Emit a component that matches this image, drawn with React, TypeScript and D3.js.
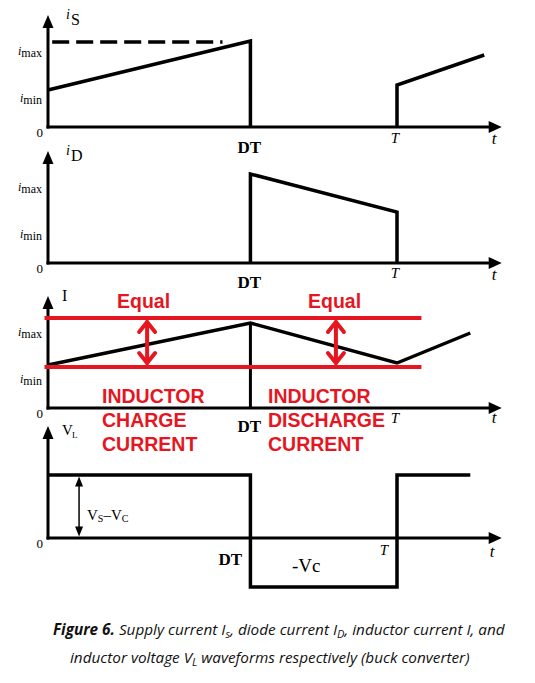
import React from "react";
import * as d3 from "d3";

// ---- data (time in units of the period T, levels in panel units) ----
const timeMarks = [
  { label: "DT", t: 0.58 },
  { label: "T", t: 1 },
];
const axisEndT = 1.3;
const axisTopV = 1.12;

const supplyCurrentOn: [number, number][] = [[0, 0.37], [0.58, 0.86], [0.58, 0]];
const supplyCurrentNext: [number, number][] = [[1, 0], [1, 0.42], [1.25, 0.72]];
const supplyPeakDashed: [number, number][] = [[0.012, 0.85], [0.5, 0.85]];

const diodeCurrent: [number, number][] = [[0.58, 0], [0.58, 0.89], [1, 0.51], [1, 0]];

const inductorCurrent: [number, number][] = [[0, 0.43], [0.58, 0.85], [1, 0.45], [1.21, 0.75]];
const inductorDTMarker: [number, number][] = [[0.58, 0.85], [0.58, 0]];
const rippleBandLevels = [0.9, 0.41];
const rippleBandSpan = [-0.01, 1.07];
const equalArrowTimes = [0.284, 0.825];
const equalLabels = ["Equal", "Equal"];
const chargeLabels = ["INDUCTOR", "CHARGE", "CURRENT"];
const dischargeLabels = ["INDUCTOR", "DISCHARGE", "CURRENT"];

const inductorVoltage: [number, number][] = [
  [0, 0.63], [0.58, 0.63], [0.58, -0.49], [1, -0.49], [1, 0.63], [1.21, 0.63],
];
const vsvcArrowT = 0.089;
const vsvcLevel = 0.63;

const currentTickValues = [0, 0.275, 0.745];
const currentTickLabels = ["0", "min", "max"];

const RED = "#e5161f";
const SERIF = "'Liberation Serif', 'Times New Roman', serif";
const SANS = "'Liberation Sans', Arial, sans-serif";

const x = d3.scaleLinear().domain([0, 1]).range([48, 397]);
const panelBases = [127, 263, 408, 538];
const yScales = panelBases.map((b) => d3.scaleLinear().domain([0, 1]).range([b, b - 100]));

const lineGen = (y: d3.ScaleLinear<number, number>) =>
  d3.line<[number, number]>().x((d) => x(d[0])).y((d) => y(d[1]));

function Axes({ y }: { y: d3.ScaleLinear<number, number> }) {
  const x0 = x(0);
  const y0 = y(0);
  const tipY = y(axisTopV);
  const tipX = x(axisEndT);
  return (
    <g>
      <line x1={x0} y1={y0 + 1.5} x2={x0} y2={tipY + 10} stroke="#000" strokeWidth={3} />
      <polygon points={`${x0},${tipY} ${x0 - 5.5},${tipY + 13} ${x0 + 5.5},${tipY + 13}`} fill="#000" />
      <line x1={x0 - 1.5} y1={y0} x2={tipX - 10} y2={y0} stroke="#000" strokeWidth={3} />
      <polygon points={`${tipX},${y0} ${tipX - 13},${y0 - 6} ${tipX - 13},${y0 + 6}`} fill="#000" />
      <text x={43} y={y0 + 10} fontFamily={SERIF} fontSize={13} textAnchor="end">0</text>
    </g>
  );
}

function CurrentTicks({ y }: { y: d3.ScaleLinear<number, number> }) {
  return (
    <g fontFamily={SERIF}>
      {currentTickValues.slice(1).map((v, i) => (
        <text key={i} x={42} y={y(v) + 4} fontSize={12} textAnchor="end">
          <tspan fontStyle="italic" dy={-2}>i</tspan>
          <tspan dy={2}>{currentTickLabels[i + 1]}</tspan>
        </text>
      ))}
    </g>
  );
}

function TimeLabels({ y, dtDx = 0, dtDy = 26, tDy = 16, tDx = -2, tt = 15 }: any) {
  const y0 = y(0);
  return (
    <g fontFamily={SERIF}>
      <text x={x(timeMarks[0].t) + dtDx} y={y0 + dtDy} fontSize={17} fontWeight="bold" textAnchor="middle">
        {timeMarks[0].label}
      </text>
      <text x={x(timeMarks[1].t) + tDx} y={y0 + tDy} fontSize={15} fontStyle="italic" textAnchor="middle">
        {timeMarks[1].label}
      </text>
      <text x={494} y={y0 + tt + 2} fontSize={17} fontStyle="italic" textAnchor="middle">t</text>
    </g>
  );
}

export default function App() {
  const [y1, y2, y3, y4] = yScales;
  const l1 = lineGen(y1), l2 = lineGen(y2), l3 = lineGen(y3), l4 = lineGen(y4);
  const wave = { fill: "none", stroke: "#000", strokeWidth: 3.5, strokeLinejoin: "miter" as const };

  return (
    <svg width={535} height={683} style={{ position: "absolute", left: 0, top: 0, background: "#fff" }}>
      <rect width={535} height={683} fill="#fff" />

      {/* Panel 1: supply current */}
      <Axes y={y1} />
      <CurrentTicks y={y1} />
      <path d={l1(supplyPeakDashed) || ""} fill="none" stroke="#000" strokeWidth={3.5} strokeDasharray="17,7" />
      <path d={l1(supplyCurrentOn) || ""} {...wave} />
      <path d={l1(supplyCurrentNext) || ""} {...wave} />
      <text fontFamily={SERIF}>
        <tspan x={66} y={y1(0) - 108} fontSize={14} fontStyle="italic">i</tspan>
        <tspan x={71} y={y1(0) - 102} fontSize={16}>S</tspan>
      </text>
      <TimeLabels y={y1} dtDx={-1} dtDy={26} tDy={16} />

      {/* Panel 2: diode current */}
      <Axes y={y2} />
      <CurrentTicks y={y2} />
      <path d={l2(diodeCurrent) || ""} {...wave} />
      <text fontFamily={SERIF}>
        <tspan x={66} y={y2(0) - 108} fontSize={14} fontStyle="italic">i</tspan>
        <tspan x={71} y={y2(0) - 102} fontSize={16}>D</tspan>
      </text>
      <TimeLabels y={y2} dtDx={-1} dtDy={25} tDy={15} />

      {/* Panel 3: inductor current */}
      <Axes y={y3} />
      <CurrentTicks y={y3} />
      <path d={l3(inductorCurrent) || ""} fill="none" stroke="#000" strokeWidth={3.5} />
      <path d={l3(inductorDTMarker) || ""} fill="none" stroke="#000" strokeWidth={3} />
      <text x={62} y={y3(0) - 107} fontFamily={SERIF} fontSize={16}>I</text>
      <TimeLabels y={y3} dtDx={-1} dtDy={24} tDy={15} tt={13} />
      {rippleBandLevels.map((v, i) => (
        <line key={i} x1={x(rippleBandSpan[0])} x2={x(rippleBandSpan[1])} y1={y3(v)} y2={y3(v)} stroke={RED} strokeWidth={4} />
      ))}
      {equalArrowTimes.map((t, i) => {
        const ax = x(t);
        const top = y3(rippleBandLevels[0]) + 4;
        const bot = y3(rippleBandLevels[1]) - 4;
        return (
          <g key={i} stroke={RED} strokeWidth={4} fill="none" strokeLinecap="round" strokeLinejoin="round">
            <line x1={ax} x2={ax} y1={top} y2={bot} />
            <polyline points={`${ax - 8},${top + 10} ${ax},${top} ${ax + 8},${top + 10}`} />
            <polyline points={`${ax - 8},${bot - 10} ${ax},${bot} ${ax + 8},${bot - 10}`} />
          </g>
        );
      })}
      <g fontFamily={SANS} fontWeight="bold" fill={RED} fontSize={19.5}>
        <text x={117} y={308}>{equalLabels[0]}</text>
        <text x={308} y={308}>{equalLabels[1]}</text>
        {chargeLabels.map((s, i) => (
          <text key={"c" + i} x={102} y={403 + i * 24}>{s}</text>
        ))}
        {dischargeLabels.map((s, i) => (
          <text key={"d" + i} x={268} y={403 + i * 24}>{s}</text>
        ))}
      </g>

      {/* Panel 4: inductor voltage */}
      <Axes y={y4} />
      <path d={l4(inductorVoltage) || ""} {...wave} />
      <text fontFamily={SERIF}>
        <tspan x={62} y={y4(0) - 103} fontSize={15}>V</tspan>
        <tspan x={72} y={y4(0) - 100} fontSize={9}>L</tspan>
      </text>
      {(() => {
        const ax = x(vsvcArrowT);
        const top = y4(vsvcLevel) + 1.5;
        const bot = y4(0) - 1.5;
        return (
          <g>
            <line x1={ax} x2={ax} y1={top + 8} y2={bot - 8} stroke="#000" strokeWidth={1.5} />
            <polygon points={`${ax},${top} ${ax - 4},${top + 10} ${ax + 4},${top + 10}`} fill="#000" />
            <polygon points={`${ax},${bot} ${ax - 4},${bot - 10} ${ax + 4},${bot - 10}`} fill="#000" />
          </g>
        );
      })()}
      <text fontFamily={SERIF} y={520}>
        <tspan x={87} fontSize={15}>V</tspan>
        <tspan fontSize={10} dy={2}>S</tspan>
        <tspan fontSize={15} dy={-2}>–V</tspan>
        <tspan fontSize={10} dy={2}>C</tspan>
      </text>
      <text x={242} y={565} fontFamily={SERIF} fontSize={17} fontWeight="bold" textAnchor="end">DT</text>
      <text x={292} y={572} fontFamily={SERIF} fontSize={19}>-Vc</text>
      <text x={384} y={555} fontFamily={SERIF} fontSize={15} fontStyle="italic" textAnchor="middle">T</text>
      <text x={492} y={557} fontFamily={SERIF} fontSize={17} fontStyle="italic" textAnchor="middle">t</text>

      {/* Caption */}
      <g fontFamily="'Open Sans', sans-serif" fontStyle="italic" fontSize={15.3} fill="#111">
        <text x={53} y={635}>
          <tspan fontWeight="bold">Figure 6.</tspan>
          <tspan> Supply current I</tspan>
          <tspan fontSize={11} dy={3}>s</tspan>
          <tspan dy={-3}>, diode current I</tspan>
          <tspan fontSize={11} dy={3}>D</tspan>
          <tspan dy={-3}>, inductor current I, and</tspan>
        </text>
        <text x={70} y={663}>
          <tspan>inductor voltage V</tspan>
          <tspan fontSize={11} dy={3}>L</tspan>
          <tspan dy={-3}> waveforms respectively (buck converter)</tspan>
        </text>
      </g>
    </svg>
  );
}
